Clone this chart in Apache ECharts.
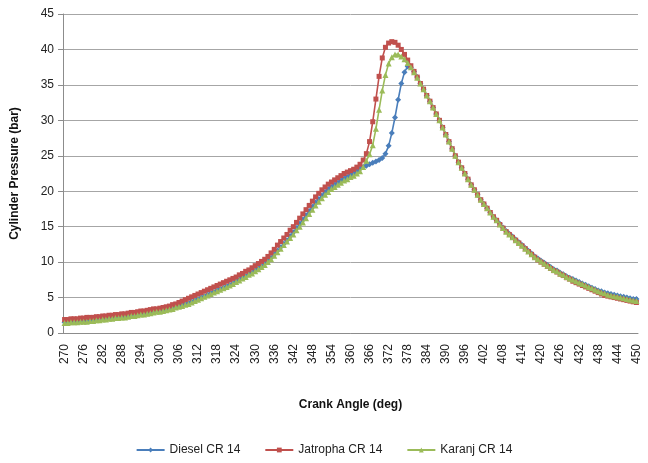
<!DOCTYPE html>
<html>
<head>
<meta charset="utf-8">
<script src="https://cdn.jsdelivr.net/npm/echarts@6/dist/echarts.min.js"></script>
<style>
  html, body { margin: 0; padding: 0; background: #fff; }
  #chart { width: 648px; height: 463px; }
</style>
</head>
<body>
<div id="chart"></div>
<script>
// Crank angle, one category per degree
const crankAngles = [];
for (let a = 270; a <= 450; a++) crankAngles.push(String(a));

// Cylinder pressure (bar) for each degree, 270..450
const dieselCR14 = [
  1.5,1.5,1.6,1.6,1.6,1.7,1.7,1.7,1.8,1.8,
  1.9,1.9,2.0,2.0,2.1,2.1,2.2,2.2,2.3,2.3,
  2.4,2.5,2.5,2.6,2.7,2.7,2.8,2.9,3.0,3.1,
  3.1,3.2,3.3,3.4,3.5,3.7,3.8,3.9,4.1,4.2,
  4.4,4.6,4.8,5.0,5.2,5.4,5.6,5.8,6.0,6.2,
  6.4,6.6,6.8,7.0,7.3,7.5,7.8,8.0,8.3,8.5,
  8.8,9.1,9.4,9.8,10.2,10.6,11.1,11.6,12.1,12.6,
  13.1,13.7,14.2,14.8,15.4,16.0,16.6,17.2,17.8,18.4,
  18.9,19.4,19.9,20.3,20.6,20.9,21.2,21.5,21.8,22.0,
  22.3,22.5,22.8,23.2,23.4,23.6,23.8,24.0,24.2,24.4,
  24.7,25.3,26.4,28.2,30.4,32.9,35.2,36.8,37.6,37.5,
  36.9,36.1,35.2,34.4,33.5,32.7,31.8,30.9,30.0,29.0,
  28.0,27.0,26.0,25.0,24.1,23.3,22.5,21.7,20.9,20.2,
  19.5,18.8,18.2,17.6,17.0,16.4,15.9,15.4,14.9,14.4,
  14.0,13.6,13.2,12.8,12.4,12.0,11.6,11.2,10.8,10.5,
  10.2,9.9,9.6,9.3,9.0,8.8,8.5,8.3,8.0,7.8,
  7.6,7.4,7.2,7.0,6.8,6.6,6.4,6.2,6.0,5.9,
  5.7,5.6,5.5,5.4,5.3,5.2,5.1,5.0,4.9,4.8,
  4.8
];

const jatrophaCR14 = [
  1.9,1.9,2.0,2.0,2.0,2.1,2.1,2.2,2.2,2.2,
  2.3,2.3,2.4,2.4,2.5,2.5,2.6,2.6,2.7,2.7,
  2.8,2.9,2.9,3.0,3.1,3.1,3.2,3.3,3.4,3.4,
  3.5,3.6,3.7,3.8,4.0,4.1,4.3,4.5,4.7,4.9,
  5.1,5.3,5.5,5.7,5.9,6.1,6.3,6.5,6.7,6.9,
  7.1,7.3,7.5,7.7,7.9,8.2,8.4,8.7,8.9,9.2,
  9.5,9.8,10.1,10.4,10.8,11.3,11.8,12.4,12.9,13.4,
  13.9,14.5,15.0,15.6,16.2,16.8,17.4,18.0,18.6,19.2,
  19.7,20.2,20.6,21.0,21.3,21.6,21.9,22.2,22.5,22.7,
  22.9,23.1,23.4,23.8,24.4,25.3,27.0,29.8,33.0,36.2,
  38.8,40.3,40.9,41.1,41.0,40.6,40.0,39.3,38.5,37.7,
  36.9,36.1,35.2,34.4,33.5,32.7,31.8,30.9,30.0,29.0,
  28.0,27.0,26.0,25.0,24.1,23.3,22.5,21.7,20.9,20.2,
  19.5,18.8,18.2,17.6,17.0,16.4,15.9,15.3,14.8,14.3,
  13.9,13.5,13.1,12.7,12.3,11.9,11.5,11.1,10.7,10.3,
  10.0,9.7,9.4,9.1,8.8,8.6,8.3,8.1,7.8,7.6,
  7.3,7.1,6.9,6.7,6.5,6.3,6.1,5.9,5.7,5.5,
  5.3,5.2,5.1,5.0,4.9,4.8,4.7,4.6,4.5,4.4,
  4.3
];

const karanjCR14 = [
  1.4,1.4,1.5,1.5,1.5,1.6,1.6,1.6,1.7,1.7,
  1.8,1.8,1.9,1.9,2.0,2.0,2.1,2.1,2.2,2.2,
  2.3,2.4,2.4,2.5,2.6,2.6,2.7,2.8,2.9,3.0,
  3.0,3.1,3.2,3.3,3.4,3.6,3.7,3.8,4.0,4.1,
  4.3,4.5,4.7,4.9,5.1,5.3,5.5,5.7,5.9,6.1,
  6.3,6.5,6.7,6.9,7.2,7.4,7.7,7.9,8.2,8.4,
  8.7,9.0,9.3,9.6,10.0,10.4,10.9,11.4,11.9,12.4,
  12.9,13.4,13.9,14.5,15.0,15.6,16.2,16.8,17.4,18.0,
  18.5,19.0,19.5,19.9,20.3,20.6,20.9,21.2,21.5,21.7,
  22.0,22.2,22.5,22.8,23.4,24.3,25.2,26.5,28.8,31.5,
  34.2,36.4,38.0,38.9,39.3,39.3,39.0,38.6,38.1,37.5,
  36.8,36.0,35.2,34.4,33.5,32.7,31.8,30.9,30.0,29.0,
  28.0,27.0,26.0,25.0,24.1,23.3,22.5,21.7,20.9,20.2,
  19.5,18.8,18.2,17.6,17.0,16.4,15.9,15.3,14.8,14.3,
  13.9,13.5,13.1,12.7,12.3,11.9,11.5,11.1,10.7,10.4,
  10.1,9.8,9.5,9.2,8.9,8.7,8.4,8.2,7.9,7.7,
  7.5,7.3,7.1,6.9,6.7,6.5,6.3,6.1,5.9,5.7,
  5.6,5.4,5.3,5.2,5.1,5.0,4.9,4.8,4.7,4.6,
  4.5
];

const pressureTicks = { min: 0, max: 45, interval: 5 };

const fontFamily = '"Liberation Sans", "DejaVu Sans", sans-serif';
const gridGray = '#a6a6a6';

const chart = echarts.init(document.getElementById('chart'), null, { renderer: 'canvas' });

function lineSeries(name, data, color, symbol, size) {
  return {
    name: name,
    type: 'line',
    data: data,
    symbol: symbol,
    symbolSize: size,
    showAllSymbol: true,
    lineStyle: { color: color, width: 1.6 },
    itemStyle: { color: color },
    emphasis: { disabled: true },
    animation: false
  };
}

chart.setOption({
  backgroundColor: '#ffffff',
  textStyle: { fontFamily: fontFamily },
  grid: { left: 63, right: 10, top: 14, bottom: 130, containLabel: false },
  legend: {
    bottom: 2,
    left: 'center',
    itemWidth: 28,
    itemHeight: 6,
    itemGap: 24,
    textStyle: { fontSize: 12, color: '#222', fontFamily: fontFamily },
    data: ['Diesel CR 14', 'Jatropha CR 14', 'Karanj CR 14']
  },
  xAxis: {
    type: 'category',
    data: crankAngles,
    boundaryGap: true,
    name: 'Crank Angle (deg)',
    nameLocation: 'middle',
    nameGap: 66,
    nameTextStyle: { fontSize: 12, fontWeight: 'bold', color: '#111' },
    axisLine: { lineStyle: { color: '#8c8c8c', width: 1 } },
    axisTick: { interval: 0, length: 4, lineStyle: { color: '#8c8c8c' } },
    axisLabel: {
      interval: 5,
      rotate: 90,
      margin: 11,
      fontSize: 12,
      color: '#222'
    },
    splitLine: { show: false }
  },
  yAxis: {
    type: 'value',
    min: pressureTicks.min,
    max: pressureTicks.max,
    interval: pressureTicks.interval,
    name: 'Cylinder Pressure (bar)',
    nameLocation: 'middle',
    nameGap: 42,
    nameTextStyle: { fontSize: 12, fontWeight: 'bold', color: '#111' },
    axisLine: { show: true, lineStyle: { color: '#8c8c8c', width: 1 } },
    axisTick: { show: true, length: 5, lineStyle: { color: '#8c8c8c' } },
    axisLabel: { fontSize: 12, color: '#222', margin: 9 },
    splitLine: { show: true, lineStyle: { color: gridGray, width: 1 } }
  },
  series: [
    lineSeries('Diesel CR 14', dieselCR14, '#4a7ebb', 'diamond', 6),
    lineSeries('Jatropha CR 14', jatrophaCR14, '#c0504d', 'rect', 5),
    lineSeries('Karanj CR 14', karanjCR14, '#9bbb59', 'triangle', 6)
  ]
});
</script>
</body>
</html>
